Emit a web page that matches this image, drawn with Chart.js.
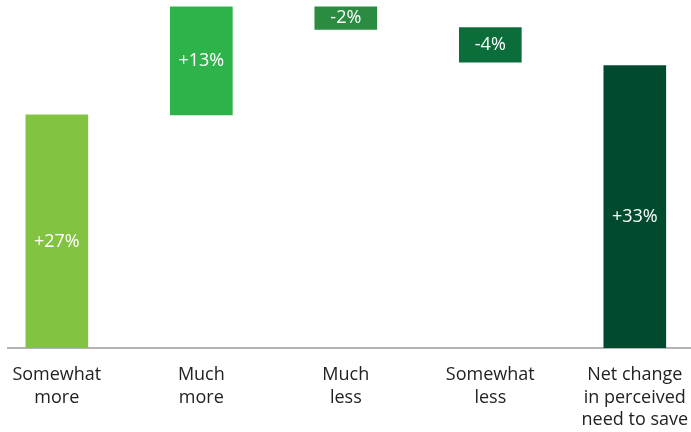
<!DOCTYPE html>
<html>
<head>
<meta charset="utf-8">
<script src="https://cdn.jsdelivr.net/npm/chart.js@4"></script>
<style>
  html, body { margin: 0; padding: 0; background: #ffffff; }
  #wrap { width: 691px; height: 432px; position: relative; }
</style>
</head>
<body>
<div id="wrap"><canvas id="c"></canvas></div>
<script>
const categories = [
  ['Somewhat', 'more'],
  ['Much', 'more'],
  ['Much', 'less'],
  ['Somewhat', 'less'],
  ['Net change', 'in perceived', 'need to save']
];
const valueLabels = ['+27%', '+13%', '-2%', '-4%', '+33%'];
const barStart = [0, 27, 39.5, 37.1, 0];
const barEnd = [27, 39.5, 36.9, 33.1, 32.7];
const barColors = ['#82c341', '#2eb34b', '#2a8b41', '#0b6d3a', '#004b2d'];

const labelPlugin = {
  id: 'valueLabels',
  afterDatasetsDraw(chart) {
    const ctx = chart.ctx;
    const meta = chart.getDatasetMeta(0);
    ctx.save();
    ctx.fillStyle = '#ffffff';
    ctx.font = '18px "Open Sans"';
    ctx.textAlign = 'center';
    ctx.textBaseline = 'middle';
    meta.data.forEach((bar, i) => {
      const p = bar.getProps(['x', 'y', 'base'], true);
      let cy = (p.y + p.base) / 2;
      if (barStart[i] === 0) cy += 10;
      ctx.fillText(valueLabels[i], p.x, cy);
    });
    ctx.restore();
  }
};

new Chart(document.getElementById('c'), {
  type: 'bar',
  data: {
    datasets: [{
      data: categories.map((c, i) => ({ x: i, y: [barStart[i], barEnd[i]] })),
      backgroundColor: barColors,
      borderWidth: 0,
      barThickness: 62
    }]
  },
  options: {
    responsive: true,
    maintainAspectRatio: false,
    animation: false,
    layout: { padding: { left: 8, right: 0, top: 0, bottom: 0 } },
    plugins: { legend: { display: false }, tooltip: { enabled: false } },
    scales: {
      x: {
        type: 'linear',
        offset: false,
        bounds: 'data',
        min: -0.338,
        max: 4.389,
        afterBuildTicks: (s) => { s.ticks = categories.map((c, i) => ({ value: i })); },
        afterFit: (s) => { s.height = 84; s.paddingLeft = 0; s.paddingRight = 0; },
        grid: { display: false, drawTicks: false, offset: false },
        border: { display: true, color: '#b4b4b4', width: 2 },
        ticks: {
          autoSkip: false,
          maxRotation: 0,
          padding: 16,
          color: '#222222',
          font: { family: '"Open Sans"', size: 18, lineHeight: 1.25 },
          callback: (v, idx) => categories[idx]
        }
      },
      y: {
        display: false,
        min: 0,
        max: 40.3
      }
    }
  },
  plugins: [labelPlugin]
});
</script>
</body>
</html>
